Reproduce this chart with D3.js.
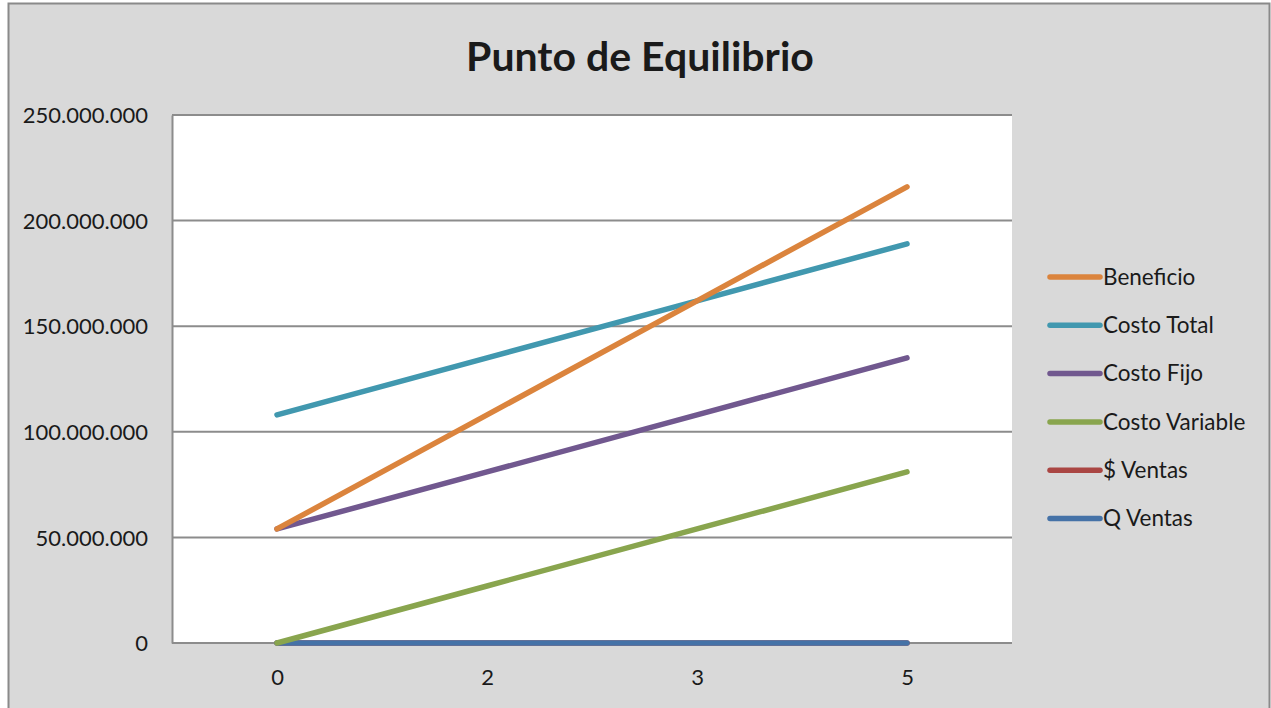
<!DOCTYPE html>
<html>
<head>
<meta charset="utf-8">
<script src="https://cdn.jsdelivr.net/npm/d3@7"></script>
<style>
  html, body { margin: 0; padding: 0; background: #fff; }
  svg { display: block; }
  text { font-family: Lato, "Open Sans", sans-serif; fill: #1a1a1a; }
</style>
</head>
<body>
<svg id="chart" width="1271" height="708"></svg>
<script>
// Break-even chart data
const categories = ["0", "2", "3", "5"];
const seriesNames = ["Beneficio", "Costo Total", "Costo Fijo", "Costo Variable", "$ Ventas", "Q Ventas"];
const beneficio     = [54000000, 108000000, 162000000, 216000000];
const costoTotal    = [108000000, 135000000, 162000000, 189000000];
const costoFijo     = [54000000, 81000000, 108000000, 135000000];
const costoVariable = [0, 27000000, 54000000, 81000000];
const ventasPesos   = [0, 0, 0, 0];
const ventasQ       = [0, 0, 0, 0];
const yTicks = [0, 50000000, 100000000, 150000000, 200000000, 250000000];
const seriesColors = ["#DB843D", "#4198AF", "#71588F", "#89A54E", "#AA4643", "#4572A7"];
// Painting order of the lines, bottom to top (indices into seriesNames)
const drawOrder = [4, 5, 3, 2, 1, 0];

const seriesValues = [beneficio, costoTotal, costoFijo, costoVariable, ventasPesos, ventasQ];
const series = seriesNames.map((name, i) => ({ name, values: seriesValues[i], color: seriesColors[i] }));

const svg = d3.select("#chart");
const W = 1271, H = 708;

// Chart area background and frame
svg.append("rect").attr("x", 0).attr("y", 0).attr("width", W).attr("height", H).attr("fill", "#fff");
svg.append("rect")
  .attr("x", 8.5).attr("y", 3.5).attr("width", 1261).attr("height", 720)
  .attr("fill", "#D9D9D9").attr("stroke", "#8a8a8a").attr("stroke-width", 2);

const plot = { left: 172, top: 115, right: 1012, bottom: 643 };

const x = d3.scalePoint().domain(categories).range([plot.left, plot.right]).padding(0.5);
const y = d3.scaleLinear().domain([0, 250000000]).range([plot.bottom, plot.top]);

// Plot area
svg.append("rect")
  .attr("x", plot.left).attr("y", plot.top)
  .attr("width", plot.right - plot.left).attr("height", plot.bottom - plot.top)
  .attr("fill", "#fff");

// Gridlines
svg.append("g")
  .selectAll("line")
  .data(yTicks)
  .join("line")
  .attr("x1", plot.left).attr("x2", plot.right)
  .attr("y1", d => y(d)).attr("y2", d => y(d))
  .attr("stroke", "#8c8c8c").attr("stroke-width", 2);

// Y axis
const fmt = v => d3.format(",")(v).replace(/,/g, ".");
const yAxis = svg.append("g")
  .attr("transform", `translate(${plot.left},0)`)
  .call(d3.axisLeft(y).tickValues(yTicks).tickFormat(fmt).tickSize(0).tickPadding(24));
yAxis.select(".domain").attr("stroke", "#8c8c8c").attr("stroke-width", 2);
yAxis.selectAll("text").style("font-size", "22px").attr("dy", "0.35em");

// X axis
const xAxis = svg.append("g")
  .attr("transform", `translate(0,${plot.bottom})`)
  .call(d3.axisBottom(x).tickSize(0).tickPadding(42));
xAxis.select(".domain").attr("stroke", "#8c8c8c").attr("stroke-width", 2).attr("d", `M${plot.left},0H${plot.right}`);
xAxis.selectAll("text").style("font-size", "22px").attr("dy", "0");

// Series lines
const line = d3.line().x((d, i) => x(categories[i])).y(d => y(d));
svg.append("g")
  .selectAll("path")
  .data(drawOrder.map(i => series[i]))
  .join("path")
  .attr("d", d => line(d.values))
  .attr("fill", "none")
  .attr("stroke", d => d.color)
  .attr("stroke-width", 5.5)
  .attr("stroke-linecap", "round")
  .attr("stroke-linejoin", "round");

// Title
svg.append("text")
  .attr("x", 640).attr("y", 71)
  .attr("text-anchor", "middle")
  .style("font-size", "41px").style("font-weight", "bold")
  .text("Punto de Equilibrio");

// Legend
const legend = svg.append("g").attr("transform", "translate(1048,277)");
const item = legend.selectAll("g")
  .data(series)
  .join("g")
  .attr("transform", (d, i) => `translate(0,${i * 48.3})`);
item.append("line")
  .attr("x1", 2).attr("x2", 52).attr("y1", 0).attr("y2", 0)
  .attr("stroke", d => d.color).attr("stroke-width", 5.5).attr("stroke-linecap", "round");
item.append("text")
  .attr("x", 55).attr("y", 0).attr("dy", "0.35em")
  .style("font-size", "22.5px")
  .text(d => d.name);
</script>
</body>
</html>
